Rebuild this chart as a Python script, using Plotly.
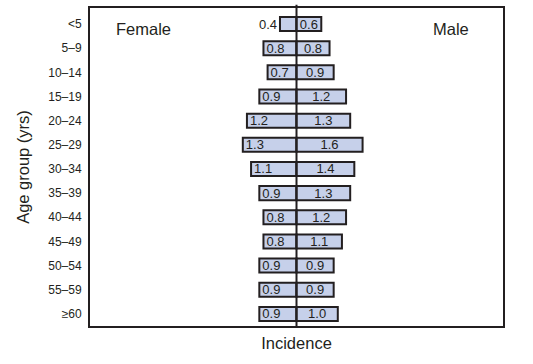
import plotly.graph_objects as go

age_groups = ["<5", "5–9", "10–14", "15–19", "20–24", "25–29", "30–34",
              "35–39", "40–44", "45–49", "50–54", "55–59", "≥60"]
female = [0.4, 0.8, 0.7, 0.9, 1.2, 1.3, 1.1, 0.9, 0.8, 0.8, 0.9, 0.9, 0.9]
male = [0.6, 0.8, 0.9, 1.2, 1.3, 1.6, 1.4, 1.3, 1.2, 1.1, 0.9, 0.9, 1.0]

FILL = "#c6d0ea"
LINE = "#231f20"
FONT = "Liberation Sans, Arial, Helvetica, sans-serif"

fig = go.Figure()
fig.add_trace(go.Bar(
    y=age_groups, x=[-v for v in female], orientation="h",
    marker=dict(color=FILL, line=dict(color=LINE, width=2)),
    text=[f"{v:.1f}" for v in female],
    textposition=["outside" if v < 0.5 else "inside" for v in female],
    insidetextanchor="end", constraintext="none",
    textfont=dict(family=FONT, size=13, color="#231f20"),
    outsidetextfont=dict(family=FONT, size=13, color="#231f20"),
    hoverinfo="skip", showlegend=False,
))
fig.add_trace(go.Bar(
    y=age_groups, x=male, orientation="h",
    marker=dict(color=FILL, line=dict(color=LINE, width=2)),
    text=[f"{v:.1f}" for v in male],
    textposition="inside", insidetextanchor="middle", constraintext="none",
    textfont=dict(family=FONT, size=13, color="#231f20"),
    hoverinfo="skip", showlegend=False,
))

fig.add_shape(type="line", xref="x", yref="paper", x0=0, x1=0, y0=0, y1=1.01,
              line=dict(color=LINE, width=2))

fig.add_annotation(x=-3.7, y=age_groups[0], text="Female", showarrow=False,
                   yshift=-5, font=dict(family=FONT, size=16.5, color="#231f20"))
fig.add_annotation(x=3.75, y=age_groups[0], text="Male", showarrow=False,
                   yshift=-5, font=dict(family=FONT, size=16.5, color="#231f20"))

fig.update_layout(
    width=533, height=364,
    margin=dict(l=90, r=30, t=6, b=38),
    barmode="relative", bargap=0.42,
    plot_bgcolor="white", paper_bgcolor="white",
    font=dict(family=FONT, color="#231f20"),
    xaxis=dict(range=[-5, 5], showticklabels=False, ticks="", showgrid=False,
               zeroline=False, showline=True, mirror=True, linecolor=LINE,
               linewidth=2,
               title=dict(text="Incidence", font=dict(size=16.5), standoff=10)),
    yaxis=dict(autorange="reversed", showgrid=False, zeroline=False,
               showline=True, mirror=True, linecolor=LINE, linewidth=2,
               ticks="", ticklabelstandoff=4, tickfont=dict(size=12),
               title=dict(text="Age group (yrs)", font=dict(size=16.5), standoff=14)),
)

fig.write_html("out.html", config={"displayModeBar": False},
               post_script="document.body.style.margin='0';")
